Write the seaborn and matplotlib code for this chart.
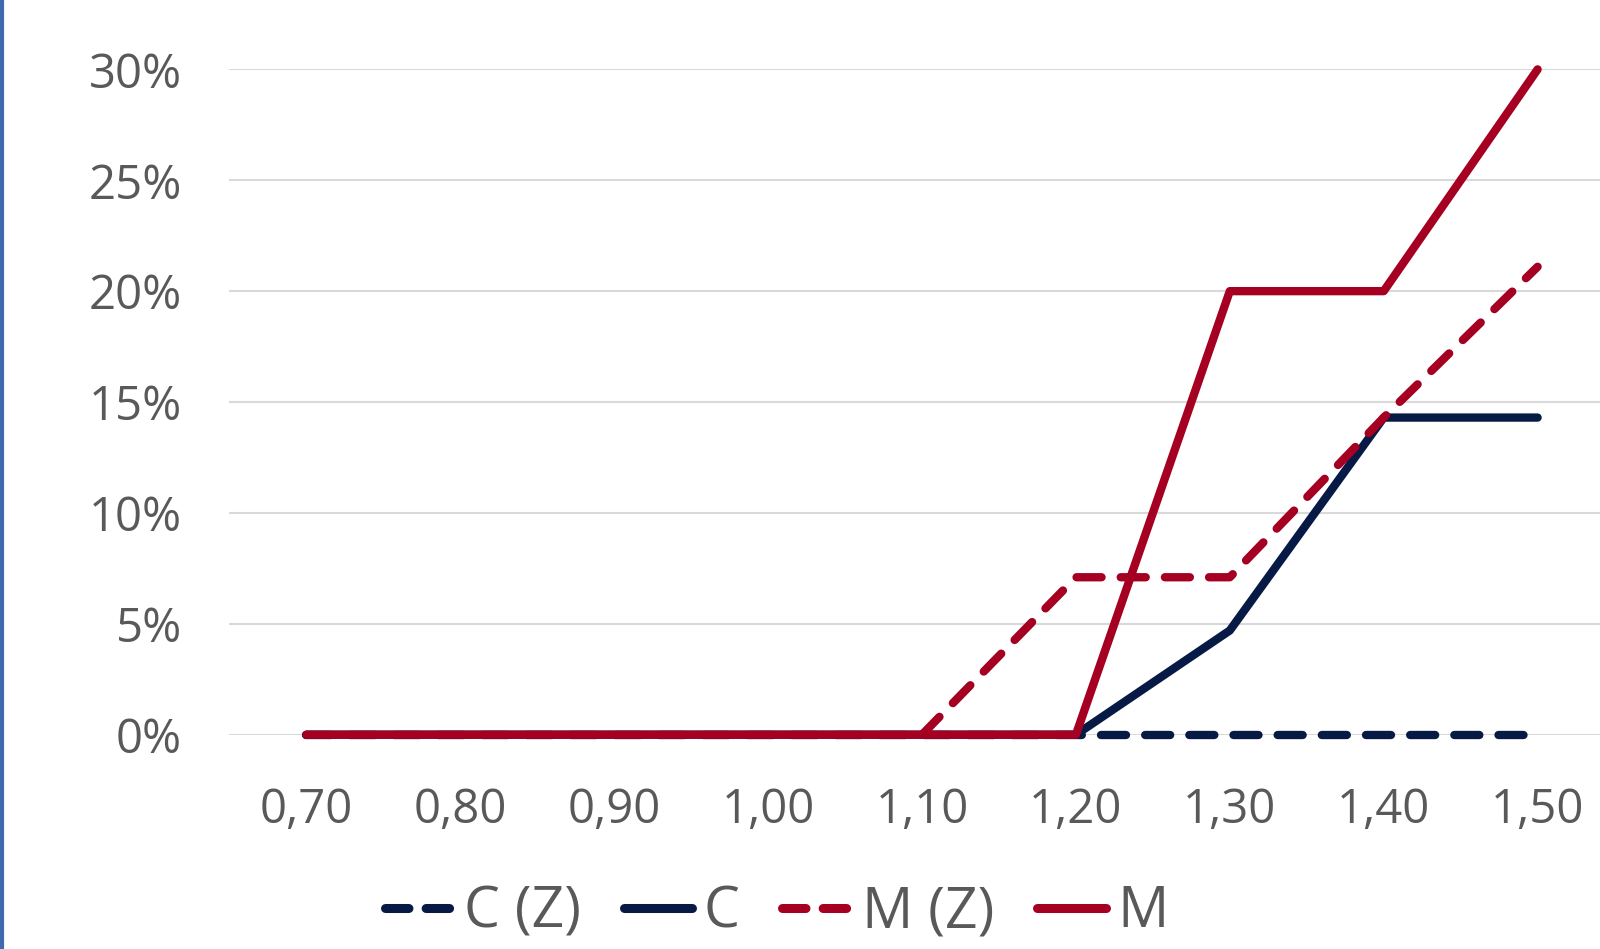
import pandas as pd
import matplotlib
matplotlib.use("Agg")
import matplotlib.pyplot as plt
import matplotlib.lines as mlines
import seaborn as sns

# data
categories = ["0,70", "0,80", "0,90", "1,00", "1,10", "1,20", "1,30", "1,40", "1,50"]
c_z = [0, 0, 0, 0, 0, 0, 0, 0, 0]
c = [0, 0, 0, 0, 0, 0, 0.047, 0.143, 0.143]
m_z = [None, None, None, None, 0, 0.071, 0.071, 0.143, 0.211]
m = [0, 0, 0, 0, 0, 0, 0.20, 0.20, 0.30]
series_names = ["C (Z)", "C", "M (Z)", "M"]
y_ticks = [0, 0.05, 0.10, 0.15, 0.20, 0.25, 0.30]

NAVY = "#061A45"
RED = "#A50021"
GRAY = "#595959"

sns.set_theme(style="white")
plt.rcParams["font.family"] = ["Open Sans", "DejaVu Sans"]

rows = []
for name, vals in zip(series_names, [c_z, c, m_z, m]):
    for i, v in enumerate(vals):
        if v is not None:
            rows.append({"x": i, "y": v, "series": name})
df = pd.DataFrame(rows)

palette = {"C (Z)": NAVY, "C": NAVY, "M (Z)": RED, "M": RED}
dashes = {"C (Z)": (3, 2.3), "C": "", "M (Z)": (3, 2.3), "M": ""}

fig = plt.figure(figsize=(16, 9.49), dpi=100)
ax = fig.add_axes([0.1434, 0.2258, 0.8657, 0.7011])

sns.lineplot(data=df, x="x", y="y", hue="series", style="series",
             hue_order=series_names, style_order=series_names,
             palette=palette, dashes=dashes, linewidth=6, ax=ax,
             legend=False, dash_capstyle="round", solid_capstyle="round",
             clip_on=False, zorder=3)

ax.set_xlim(-0.5, 8.5)
ax.set_ylim(0, 0.30)
ax.set_xticks(range(len(categories)))
ax.set_xticklabels(categories)
ax.set_yticks(y_ticks)
ax.set_yticklabels([f"{int(round(t * 100))}%" for t in y_ticks])
ax.set_xlabel("")
ax.set_ylabel("")
ax.tick_params(axis="x", length=0, pad=37, labelsize=34, colors=GRAY)
ax.tick_params(axis="y", length=0, pad=34, labelsize=34, colors=GRAY)
ax.grid(axis="y", color="#D9D9D9", linewidth=1.5)
ax.grid(axis="x", visible=False)
for s in ax.spines.values():
    s.set_visible(False)

handles = []
for name in series_names:
    ls = (0, (2.6, 1.9)) if "(Z)" in name else "-"
    handles.append(mlines.Line2D([], [], color=palette[name], linewidth=6.5,
                                 linestyle=ls, dash_capstyle="round",
                                 solid_capstyle="round"))
fig.legend(handles, series_names, loc="center", bbox_to_anchor=(0.4853, 0.038),
           ncol=4, frameon=False, fontsize=41, labelcolor=GRAY,
           handlelength=1.2, handletextpad=0.2, columnspacing=0.75)

# selection border on the left edge
fig.add_artist(mlines.Line2D([0.0012, 0.0012], [0, 1], color="#3F6AAE",
                             linewidth=3, transform=fig.transFigure))

fig.savefig("out.png", dpi=100)
